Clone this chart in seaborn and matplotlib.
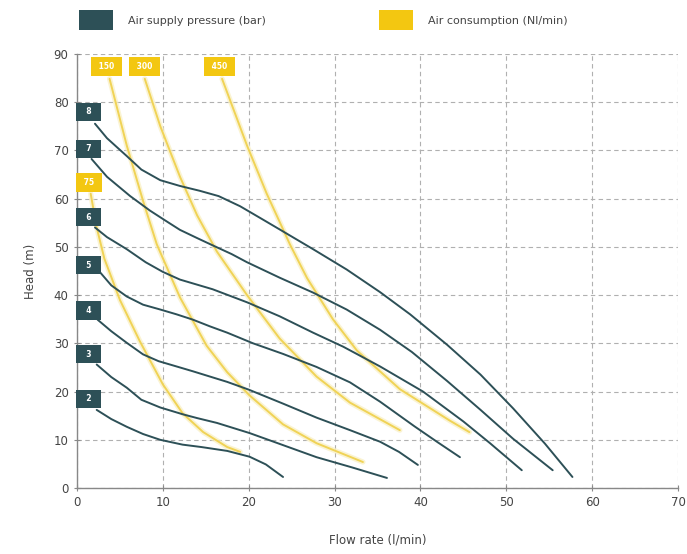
import matplotlib
matplotlib.use('Agg')
import matplotlib.pyplot as plt
from matplotlib.patches import Patch
import seaborn as sns
import pandas as pd

# air supply pressure curves (bar) - flow rate (l/min) vs head (m)
p8_flow = [2.1, 3.5, 5.8, 7.5, 9.7, 12, 14.3, 16.5, 19, 21.5, 23.6, 27.5, 31.4, 35.3, 38.8, 43.1, 47, 50.8, 54.5, 57.7]
p8_head = [75.5, 72.5, 68.8, 66, 63.8, 62.6, 61.6, 60.5, 58.4, 55.8, 53.6, 49.5, 45.3, 40.6, 36, 29.7, 23.5, 16.5, 9.2, 2.3]
p7_flow = [1.7, 3.5, 6.2, 8.5, 10.5, 12, 14, 15.8, 18, 19.8, 23.6, 27.5, 31.4, 35.3, 39, 43.1, 47, 50.8, 55.4]
p7_head = [68.2, 64.5, 60.5, 57.5, 55.2, 53.5, 51.8, 50.3, 48.5, 46.8, 43.6, 40.5, 37, 32.8, 28.2, 22.2, 16.2, 10.2, 3.7]
p6_flow = [2.1, 3.5, 5.8, 8, 10, 12, 15.8, 19.8, 23.6, 27.5, 31, 35.3, 40.3, 45, 48.1, 51.8]
p6_head = [54, 52, 49.5, 46.8, 44.8, 43.2, 41.2, 38.5, 35.6, 32.2, 29.3, 25.2, 20, 13.8, 9.3, 3.7]
p5_flow = [2.7, 4, 5.8, 7.7, 9.7, 11.6, 13.5, 15.5, 17.5, 20.5, 24, 27.9, 31.8, 35.3, 39.3, 42, 44.6]
p5_head = [44.7, 42, 39.7, 38, 37, 36, 34.9, 33.5, 32.2, 30, 27.8, 25.1, 21.9, 17.9, 12.8, 9.5, 6.4]
p4_flow = [2.4, 4, 5.8, 7.7, 9.5, 11.6, 13.5, 15.5, 17.5, 20, 24, 27.9, 31.8, 35.3, 37.5, 39.7]
p4_head = [34.9, 32.5, 30.1, 27.7, 26.3, 25.2, 24.2, 23.1, 22, 20.4, 17.5, 14.6, 12, 9.6, 7.5, 4.8]
p3_flow = [2.3, 4, 5.8, 7.5, 9.7, 12.3, 14, 16.3, 20.1, 24, 27.9, 32, 36.1]
p3_head = [25.6, 23, 20.8, 18.3, 16.7, 15.3, 14.5, 13.5, 11.4, 8.9, 6.4, 4.3, 2.1]
p2_flow = [2.3, 4, 5.8, 7.7, 9.7, 12.3, 14.5, 17.5, 20.1, 22, 24]
p2_head = [16.2, 14.3, 12.7, 11.2, 10, 9, 8.5, 7.7, 6.5, 4.9, 2.3]

# air consumption curves (Nl/min)
c450_flow = [16.9, 19.8, 22.1, 24.8, 26.8, 29.8, 32.6, 37.6, 43.4, 45.7]
c450_head = [84.8, 71, 61, 50.5, 43.5, 35, 28.5, 20.5, 14, 11.6]
c300_flow = [7.9, 9.7, 12, 14, 16.3, 19.8, 23.6, 27.9, 31.8, 37.6]
c300_head = [84.8, 75, 64.5, 56.5, 49, 40, 31, 23.1, 17.7, 12]
c150_flow = [3.8, 5.8, 7.7, 9.3, 12, 15.1, 17.5, 20.1, 24, 27.9, 33.3]
c150_head = [84.8, 71, 59.5, 50.5, 39.5, 29.5, 24, 19.2, 13.2, 9.3, 5.4]
c75_flow = [1.6, 2.3, 3.2, 5, 7.3, 8.5, 10, 12.3, 14.7, 17.5, 19]
c75_head = [61, 54, 47.5, 39, 30.5, 26.5, 21.5, 15.5, 11.6, 8.5, 7.5]

pressure_labels = ['8', '7', '6', '5', '4', '3', '2']
pressure_label_y = [78, 70.3, 56.1, 46.2, 36.8, 27.7, 18.5]
consumption_labels = ['450', '300', '150', '75']
consumption_label_x = [16.6, 7.9, 3.45, 1.4]
consumption_label_y = [87.3, 87.3, 87.3, 63.4]

DARK = '#2d5057'
YELLOW = '#f3c711'
LINE_YELLOW = '#f0d356'
TEXT = '#444444'

pressure = [(p8_flow, p8_head), (p7_flow, p7_head), (p6_flow, p6_head), (p5_flow, p5_head),
            (p4_flow, p4_head), (p3_flow, p3_head), (p2_flow, p2_head)]
consumption = [(c450_flow, c450_head), (c300_flow, c300_head), (c150_flow, c150_head), (c75_flow, c75_head)]

rows = []
for lab, (fx, hy) in zip(pressure_labels, pressure):
    rows += [{'curve': 'p' + lab, 'flow': a, 'head': b} for a, b in zip(fx, hy)]
p_df = pd.DataFrame(rows)
rows = []
for lab, (fx, hy) in zip(consumption_labels, consumption):
    rows += [{'curve': 'c' + lab, 'flow': a, 'head': b} for a, b in zip(fx, hy)]
c_df = pd.DataFrame(rows)

sns.set_style('white')
plt.rcParams['font.family'] = ['DejaVu Sans']

fig = plt.figure(figsize=(6.87, 5.54), dpi=100)
ax = fig.add_axes([0.112, 0.119, 0.875, 0.784])

# yellow consumption lines with a soft halo
sns.lineplot(data=c_df, x='flow', y='head', units='curve', estimator=None, sort=False,
             color='#f9efbf', lw=3.8, alpha=0.7, ax=ax, legend=False)
sns.lineplot(data=c_df, x='flow', y='head', units='curve', estimator=None, sort=False,
             color=LINE_YELLOW, lw=1.4, ax=ax, legend=False)
sns.lineplot(data=p_df, x='flow', y='head', units='curve', estimator=None, sort=False,
             color=DARK, lw=1.4, ax=ax, legend=False)

for lab, y in zip(pressure_labels, pressure_label_y):
    ax.text(1.35, y, '  ' + lab + '  ', color='white', fontsize=5.5, fontweight='bold',
            ha='center', va='center',
            bbox=dict(boxstyle='square,pad=0.6', fc=DARK, ec='none'), zorder=5)
for lab, x, y in zip(consumption_labels, consumption_label_x, consumption_label_y):
    ax.text(x, y, ' ' + lab + ' ', color='white', fontsize=5.5, fontweight='bold',
            ha='center', va='center',
            bbox=dict(boxstyle='square,pad=0.65', fc=YELLOW, ec='none'), zorder=5)

ax.set_xlim(0, 70)
ax.set_ylim(0, 90)
ax.set_xticks(range(0, 71, 10))
ax.set_yticks(range(0, 91, 10))
ax.grid(True, ls=(0, (4, 3)), color='#b0b0b0', lw=0.8)
for s in ['top', 'right']:
    ax.spines[s].set_visible(False)
for s in ['left', 'bottom']:
    ax.spines[s].set_color('#888888')
    ax.spines[s].set_linewidth(1.0)
ax.tick_params(direction='inout', length=5, width=0.8, color='#888888',
               labelsize=8.5, labelcolor=TEXT, left=True, bottom=True)
ax.set_xlabel('Flow rate (l/min)', fontsize=8.5, color=TEXT, labelpad=17)
ax.set_ylabel('Head (m)', fontsize=8.5, color=TEXT, labelpad=12)

handles = [Patch(fc=DARK, ec='none'), Patch(fc=YELLOW, ec='none')]
fig.legend(handles, ['Air supply pressure (bar)', 'Air consumption (Nl/min)'],
           loc='upper left', bbox_to_anchor=(0.1, 1.0), ncol=2, frameon=False,
           fontsize=8, handlelength=3.1, handleheight=2.45, handletextpad=1.3,
           columnspacing=10.2, labelcolor=TEXT, borderaxespad=0.5)

fig.savefig('out.png', dpi=100)
